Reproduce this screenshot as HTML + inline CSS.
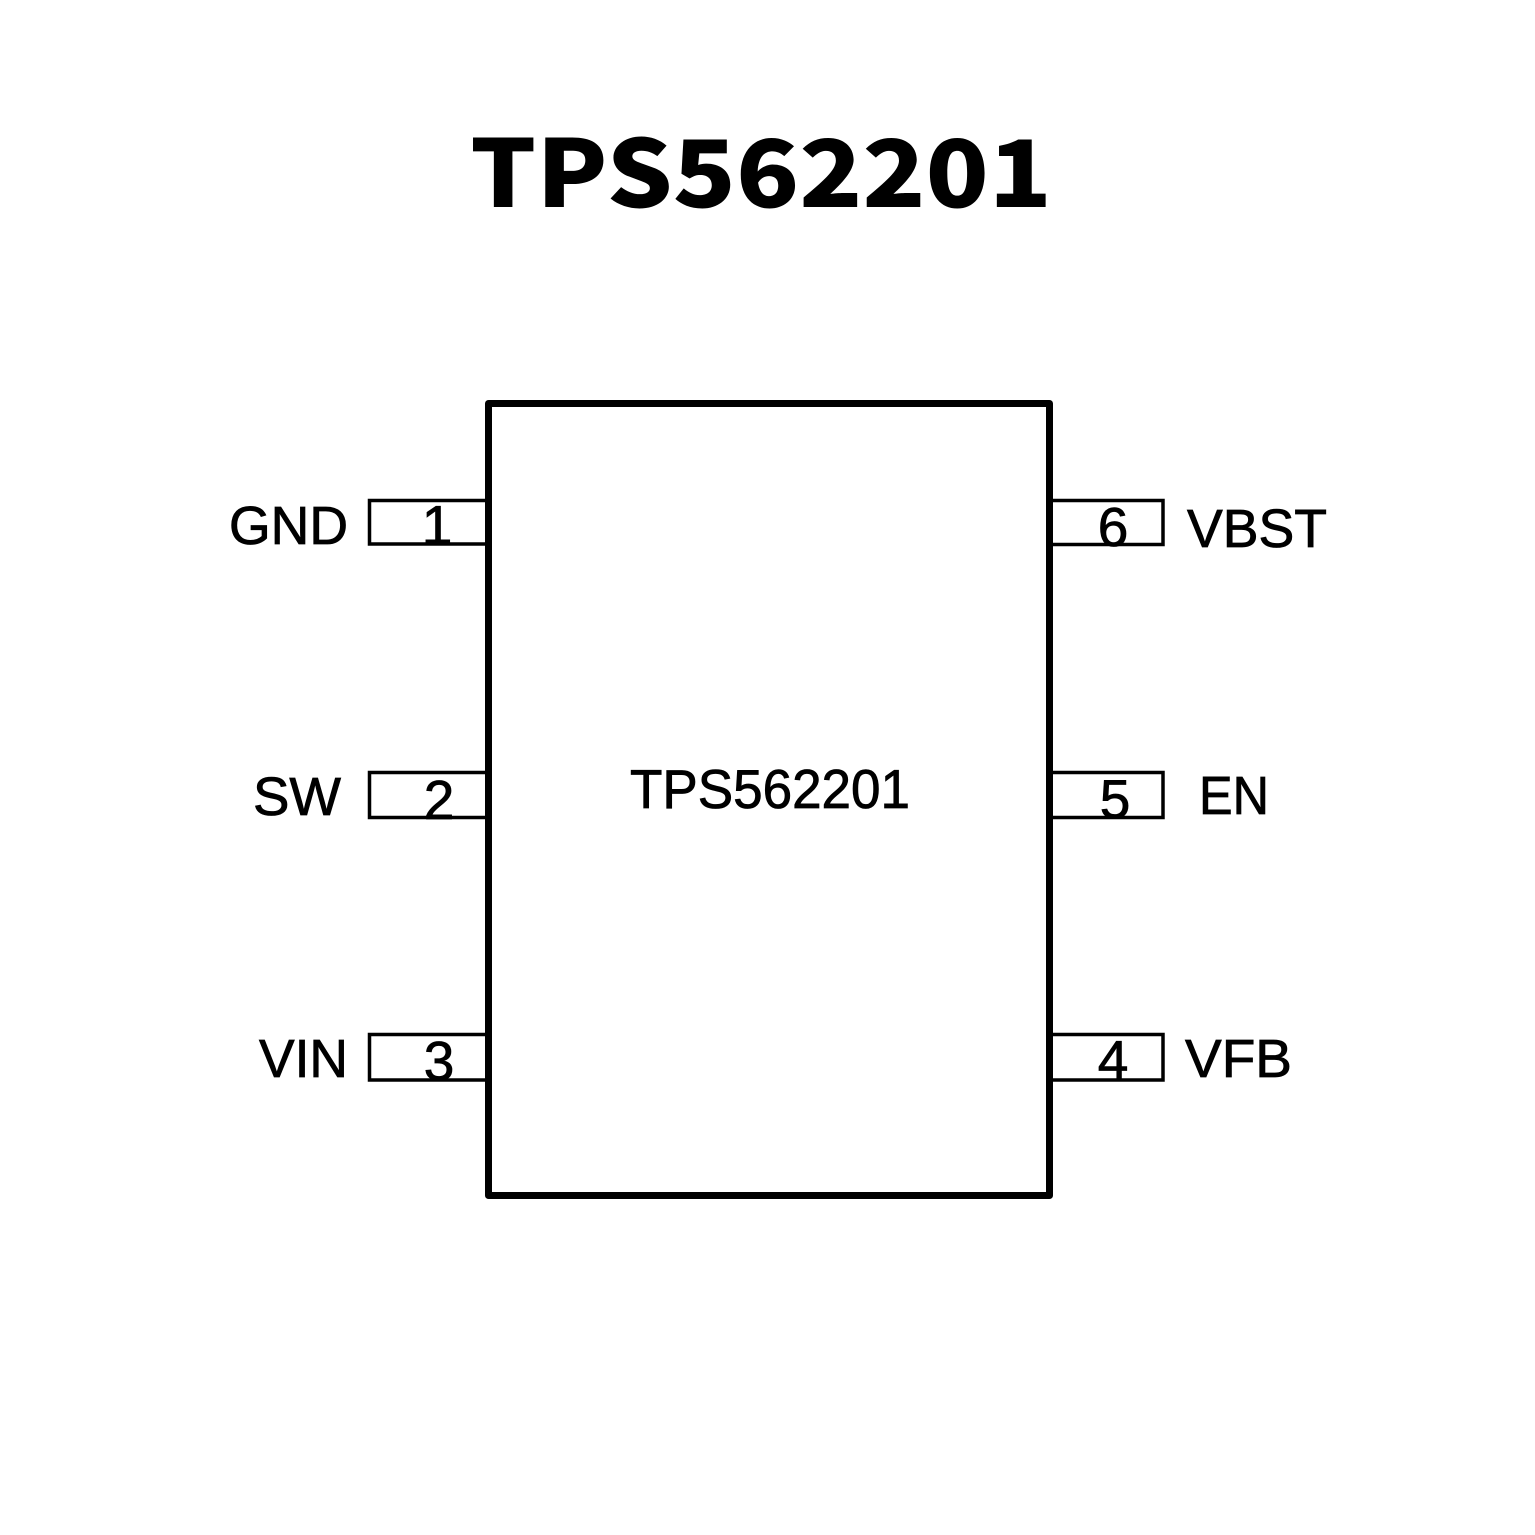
<!DOCTYPE html>
<html>
<head>
<meta charset="utf-8">
<style>
  html, body { margin: 0; padding: 0; background: #ffffff; }
  svg { display: block; }
</style>
</head>
<body>
<svg width="1535" height="1535" viewBox="0 0 1535 1535" xmlns="http://www.w3.org/2000/svg">
  <rect x="0" y="0" width="1535" height="1535" fill="#ffffff"/>

  <!-- Title -->
  <text x="470" y="207" font-family="'Noto Sans CJK SC', 'Liberation Sans', sans-serif" font-weight="900" font-size="93" textLength="582" lengthAdjust="spacingAndGlyphs" fill="#000">TPS562201</text>

  <!-- Pin boxes -->
  <g fill="none" stroke="#000" stroke-width="3.5">
    <rect x="369.5" y="500.5" width="118" height="43.5"/>
    <rect x="369.5" y="772.5" width="118" height="45"/>
    <rect x="369.5" y="1034.5" width="118" height="45.5"/>
    <rect x="1049.5" y="500.5" width="113.5" height="44"/>
    <rect x="1049.5" y="772.5" width="113.5" height="45"/>
    <rect x="1049.5" y="1034.5" width="113.5" height="45.5"/>
  </g>

  <!-- Main body -->
  <rect x="488.5" y="403.5" width="561" height="792" fill="none" stroke="#000" stroke-width="7" stroke-linejoin="round"/>

  <!-- Center label -->
  <text x="630" y="808" font-family="'Liberation Sans', Arial, sans-serif" font-size="55" textLength="280" lengthAdjust="spacingAndGlyphs" fill="#000" stroke="#000" stroke-width="0.8">TPS562201</text>

  <!-- Pin numbers -->
  <g font-family="'Liberation Sans', Arial, sans-serif" font-size="55" fill="#000" stroke="#000" stroke-width="0.8" text-anchor="middle">
    <text x="437" y="544">1</text>
    <text x="439" y="819">2</text>
    <text x="439" y="1080">3</text>
    <text x="1113" y="546">6</text>
    <text x="1115" y="818">5</text>
    <text x="1113" y="1079">4</text>
  </g>

  <!-- Pin names -->
  <g font-family="'Liberation Sans', Arial, sans-serif" font-size="54" fill="#000" stroke="#000" stroke-width="0.8">
    <text x="229" y="544" textLength="119" lengthAdjust="spacingAndGlyphs">GND</text>
    <text x="253" y="815" textLength="88" lengthAdjust="spacingAndGlyphs">SW</text>
    <text x="259" y="1077" textLength="89" lengthAdjust="spacingAndGlyphs">VIN</text>
    <text x="1187" y="547" textLength="140" lengthAdjust="spacingAndGlyphs">VBST</text>
    <text x="1199" y="814" textLength="70" lengthAdjust="spacingAndGlyphs">EN</text>
    <text x="1185" y="1077" textLength="107" lengthAdjust="spacingAndGlyphs">VFB</text>
  </g>
</svg>
</body>
</html>
